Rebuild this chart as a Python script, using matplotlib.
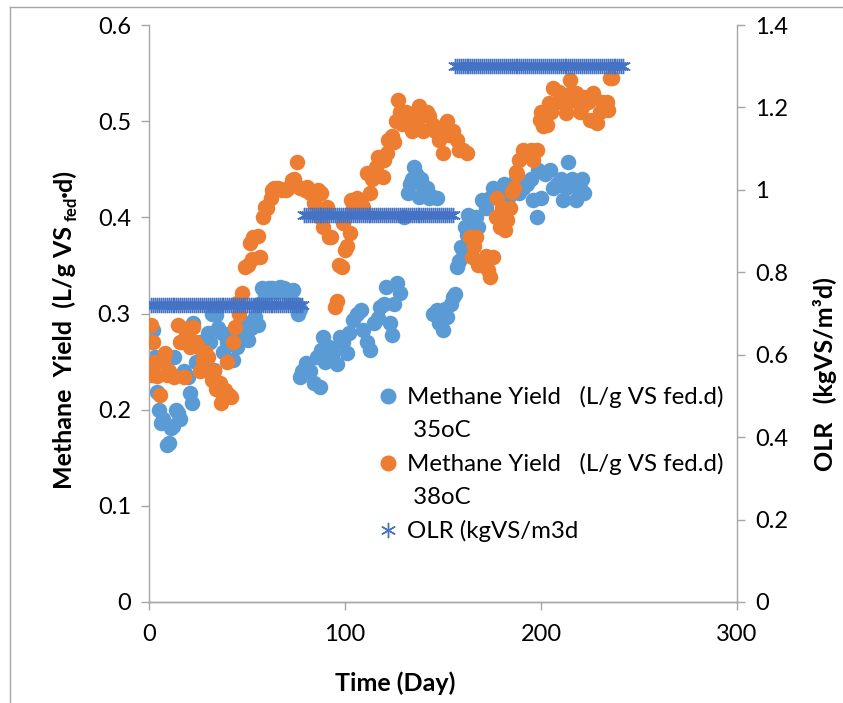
import matplotlib.pyplot as plt
from matplotlib.lines import Line2D

plt.rcParams['font.family'] = ['Lato', 'DejaVu Sans']

# Methane yield at 35oC (L/g VS fed.d)
day_35 = [1, 2, 3, 4, 5, 6, 7, 9, 10, 11, 12, 13, 14, 15, 16, 18, 20, 21, 22, 22.5,
          24, 26, 28, 30, 31, 32, 33, 34, 35, 37, 38, 40, 42, 43, 45, 47, 49, 50.5, 52, 54,
          55.6, 56, 57.6, 59, 61, 63, 65, 67, 69, 71, 73.5, 75, 76, 77,
          77, 78, 80, 80.6, 82, 84, 85.7, 87, 88, 89, 90, 92, 94, 96, 97.5, 99, 101, 102,
          104, 106, 108, 109, 111, 113, 115, 117, 118, 120, 121, 123, 124, 125, 126.5, 128,
          130, 132, 133, 134, 135, 136, 137, 138, 139, 140, 142, 143, 145, 147,
          145, 147, 148, 150, 151, 152, 154, 155, 156,
          157, 158, 159, 160, 161, 162, 163, 165, 167, 168, 170, 172, 174, 175.5, 177, 179,
          181, 183, 185, 187, 189, 191, 193, 195, 196, 198, 198.5, 200, 202, 204.6, 206, 208,
          210, 211, 213, 214, 216, 218, 219, 220, 221, 222]
yield_35 = [0.27, 0.283, 0.255, 0.218, 0.2, 0.186, 0.19, 0.163, 0.165, 0.181, 0.183, 0.255, 0.2, 0.197, 0.19, 0.24, 0.234, 0.217, 0.207, 0.29,
            0.25, 0.27, 0.241, 0.28, 0.27, 0.3, 0.241, 0.298, 0.285, 0.28, 0.26, 0.27, 0.28, 0.252, 0.265, 0.28, 0.29, 0.272, 0.285, 0.296,
            0.288, 0.31, 0.326, 0.32, 0.327, 0.326, 0.322, 0.328, 0.326, 0.32, 0.324, 0.31, 0.3, 0.305,
            0.234, 0.24, 0.249, 0.248, 0.24, 0.228, 0.255, 0.224, 0.262, 0.276, 0.25, 0.265, 0.26, 0.248, 0.276, 0.27, 0.259, 0.28,
            0.293, 0.3, 0.304, 0.283, 0.27, 0.262, 0.29, 0.295, 0.307, 0.31, 0.328, 0.29, 0.278, 0.31, 0.332, 0.321,
            0.4, 0.425, 0.435, 0.44, 0.452, 0.445, 0.442, 0.421, 0.44, 0.432, 0.43, 0.42, 0.421, 0.42,
            0.3, 0.304, 0.29, 0.283, 0.305, 0.296, 0.31, 0.317, 0.32,
            0.348, 0.355, 0.369, 0.36, 0.39, 0.382, 0.402, 0.375, 0.4, 0.39, 0.418, 0.41, 0.42, 0.43, 0.425, 0.428,
            0.435, 0.42, 0.43, 0.44, 0.425, 0.43, 0.435, 0.44, 0.418, 0.4, 0.449, 0.42, 0.445, 0.449, 0.43, 0.435,
            0.44, 0.418, 0.43, 0.458, 0.44, 0.418, 0.43, 0.43, 0.44, 0.425]

# Methane yield at 38oC (L/g VS fed.d)
day_38 = [1, 1.5, 2, 3, 4, 5.6, 7, 8, 9, 10, 12, 13, 15, 16, 17, 18, 19, 20, 21, 22.5,
          23.5, 25, 26, 27.5, 28.5, 30, 32, 33, 34, 36, 36.5, 38, 39, 40, 41, 42, 43, 44, 45, 46,
          47.6, 49, 50.5, 51.5, 52.5, 53, 55.6, 56.6, 58, 59, 60, 62, 63, 64, 66, 68, 70, 71, 73, 74,
          75.5, 77, 79.6, 80.6, 82, 84, 86, 87, 88, 89, 90, 91, 92, 93, 95, 96, 97, 98.5, 99, 100, 101,
          102.5, 103, 104, 106, 108, 109, 111, 113, 114, 116, 117, 119.4, 120, 121.4, 122, 124, 125, 126,
          127, 128, 129, 130, 131, 133, 134, 135, 137, 138, 139, 140, 142, 143, 145, 146, 148, 150,
          151, 152, 153, 155, 157, 158, 160, 162,
          164, 165, 166, 167, 168, 170, 172, 173, 174, 175.5, 177, 177.5, 179, 180, 181.6, 182.5, 184,
          185, 186, 187, 188, 189, 191, 193, 195, 196, 198,
          199.5, 200, 201, 203, 204, 205, 206, 208, 209, 211, 213, 214, 215, 216, 218, 219, 220, 221,
          222, 224, 225, 226.5, 227, 228.5, 230, 231, 233.6, 234, 235, 236]
yield_38 = [0.288, 0.236, 0.27, 0.25, 0.235, 0.215, 0.25, 0.259, 0.236, 0.24, 0.235, 0.234, 0.288, 0.27, 0.27, 0.234, 0.28, 0.285, 0.265, 0.286,
            0.27, 0.265, 0.24, 0.252, 0.26, 0.255, 0.231, 0.24, 0.222, 0.228, 0.207, 0.215, 0.22, 0.25, 0.215, 0.213, 0.27, 0.286, 0.311, 0.3,
            0.321, 0.348, 0.35, 0.373, 0.357, 0.38, 0.381, 0.359, 0.4, 0.411, 0.41, 0.42, 0.428, 0.43, 0.43, 0.428, 0.428, 0.43, 0.439, 0.44,
            0.458, 0.43, 0.428, 0.432, 0.425, 0.415, 0.428, 0.4, 0.425, 0.39, 0.405, 0.411, 0.38, 0.38, 0.307, 0.313, 0.35, 0.348, 0.394, 0.366, 0.37,
            0.384, 0.418, 0.41, 0.42, 0.415, 0.411, 0.446, 0.425, 0.44, 0.452, 0.463, 0.442, 0.46, 0.467, 0.48, 0.485, 0.478, 0.5,
            0.522, 0.51, 0.497, 0.5, 0.51, 0.505, 0.49, 0.506, 0.495, 0.516, 0.51, 0.49, 0.51, 0.505, 0.496, 0.49, 0.48, 0.467,
            0.496, 0.5, 0.486, 0.49, 0.48, 0.47, 0.47, 0.467,
            0.38, 0.359, 0.37, 0.38, 0.35, 0.35, 0.36, 0.345, 0.338, 0.359, 0.4, 0.42, 0.39, 0.41, 0.387, 0.397, 0.41,
            0.426, 0.43, 0.447, 0.445, 0.46, 0.47, 0.465, 0.47, 0.46, 0.47,
            0.501, 0.51, 0.495, 0.496, 0.519, 0.51, 0.535, 0.52, 0.53, 0.525, 0.508, 0.52, 0.543, 0.53, 0.529, 0.52, 0.51, 0.515,
            0.525, 0.52, 0.501, 0.529, 0.5, 0.498, 0.51, 0.52, 0.52, 0.512, 0.545, 0.545]

# OLR (kgVS/m3d), one value per day
olr_days = list(range(1, 243))
olr_vals = [0.72 if d <= 78 else (0.94 if d <= 155 else 1.3) for d in olr_days]

blue = '#5B9BD5'
orange = '#ED7D31'
dark_blue = '#4472C4'
grey = '#A6A6A6'

W, H = 843, 703
fig = plt.figure(figsize=(W / 100, H / 100), dpi=100)
ax1 = fig.add_axes([149 / W, 1 - 602 / H, 588 / W, 577 / H])

ax1.scatter(day_35, yield_35, s=125, color=blue, linewidths=0, zorder=2)
ax1.scatter(day_38, yield_38, s=125, color=orange, linewidths=0, zorder=3)

ax2 = ax1.twinx()
ax2.plot(olr_days, olr_vals, linestyle='none', marker=(6, 2, 0), markersize=11,
         markeredgewidth=1.0, color=dark_blue)

ax1.set_xlim(0, 300)
ax1.set_ylim(0, 0.6)
ax2.set_ylim(0, 1.4)
ax1.set_xticks([0, 100, 200, 300])
ax1.set_yticks([0, 0.1, 0.2, 0.3, 0.4, 0.5, 0.6])
ax1.set_yticklabels(['0', '0.1', '0.2', '0.3', '0.4', '0.5', '0.6'])
ax2.set_yticks([0, 0.2, 0.4, 0.6, 0.8, 1.0, 1.2, 1.4])
ax2.set_yticklabels(['0', '0.2', '0.4', '0.6', '0.8', '1', '1.2', '1.4'])

for a in (ax1, ax2):
    a.spines['top'].set_visible(False)
    for sp in a.spines.values():
        sp.set_color(grey)
        sp.set_linewidth(1)
    a.tick_params(direction='out', length=6, width=1, color=grey, labelsize=17, pad=7)
ax1.tick_params(axis='x', pad=10)
ax2.spines['left'].set_visible(False)
ax1.spines['right'].set_visible(False)

# Axis titles
fig.text(395 / W, 1 - 683 / H, 'Time (Day)', fontsize=18, fontweight='bold',
         ha='center', va='center')
fig.text(825 / W, 1 - 374 / H, 'OLR   (kgVS/m³d)', fontsize=18, fontweight='bold',
         rotation=90, ha='center', va='center')

# Left title in three pieces so that "fed" can sit as a subscript
ylab_parts = ['Methane  Yield  (L/g VS', 'fed', '·d)']
ylab_sizes = [18, 12, 18]
ylab_drop = [0, 5, 0]          # px the piece sits below the baseline
renderer = fig.canvas.get_renderer()
widths = []
for txt, fs in zip(ylab_parts, ylab_sizes):
    t = fig.text(0, 0, txt, fontsize=fs, fontweight='bold')
    widths.append(t.get_window_extent(renderer).width)
    t.remove()
gap = 5
total = sum(widths) + gap
base_x = 72
pos = (H - 329) - total / 2
for i, (txt, fs, drop) in enumerate(zip(ylab_parts, ylab_sizes, ylab_drop)):
    fig.text((base_x + drop) / W, pos / H, txt, fontsize=fs, fontweight='bold',
             rotation=90, rotation_mode='anchor', ha='left', va='baseline')
    pos += widths[i] + (gap if i == 0 else 0)

# Legend, one line of text per row (blank handles for the wrapped lines)
blank = Line2D([], [], linestyle='none')
handles = [
    Line2D([], [], linestyle='none', marker='o', markersize=10.5, color=blue), blank,
    Line2D([], [], linestyle='none', marker='o', markersize=10.5, color=orange), blank,
    Line2D([], [], linestyle='none', marker=(6, 2, 0), markersize=11, markeredgewidth=1.0, color=dark_blue),
]
labels = ['Methane Yield   (L/g VS fed.d)', ' 35oC',
          'Methane Yield   (L/g VS fed.d)', ' 38oC',
          'OLR (kgVS/m3d']
fig.legend(handles, labels, loc='upper left', bbox_to_anchor=(381 / W, 1 - 386 / H),
           frameon=False, fontsize=17.3, handlelength=0.6, handletextpad=0.5,
           borderpad=0, borderaxespad=0, labelspacing=0.5)

# Outer frame of the chart area
fig.add_artist(Line2D([10 / W, 10 / W], [0, 1 - 7 / H], transform=fig.transFigure, color=grey, lw=1))
fig.add_artist(Line2D([10 / W, 1], [1 - 7 / H, 1 - 7 / H], transform=fig.transFigure, color=grey, lw=1))

plt.savefig('out.png', dpi=100)
